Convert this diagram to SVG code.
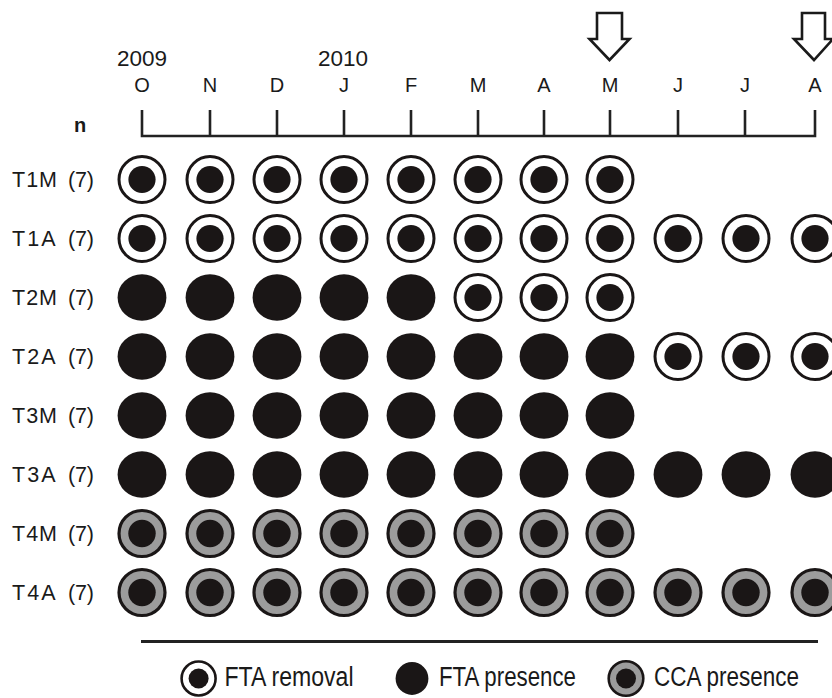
<svg xmlns="http://www.w3.org/2000/svg" xmlns:xlink="http://www.w3.org/1999/xlink" width="832" height="698" viewBox="0 0 832 698">
<style>
.t{font-family:"Liberation Sans",Arial,sans-serif;fill:#1a1a1a}
.m{font-size:20px;text-anchor:middle}
.y{font-size:22.5px;text-anchor:middle}
.r{font-size:21.5px}
.lg{font-size:27px}
.ax{stroke:#222;stroke-width:2.6;fill:none}
.arr{fill:#fff;stroke:#1a1a1a;stroke-width:2.6;stroke-linejoin:miter}
</style>
<defs>
<g id="ring"><circle r="23" fill="#fff" stroke="#1a1616" stroke-width="3"/><circle r="13.6" fill="#1a1616"/></g>
<g id="full"><ellipse rx="24.4" ry="23.2" fill="#1a1616"/></g>
<g id="cca"><circle r="23" fill="#9c9c9c" stroke="#1a1616" stroke-width="3.2"/><circle r="13.7" fill="#1a1616"/></g>
</defs>
<rect width="832" height="698" fill="#fff"/>

<g id="header">
<text class="t y" x="142" y="66">2009</text>
<text class="t y" x="343" y="66">2010</text>
<text class="t m" x="142" y="92">O</text>
<text class="t m" x="210" y="92">N</text>
<text class="t m" x="277" y="92">D</text>
<text class="t m" x="344" y="92">J</text>
<text class="t m" x="411" y="92">F</text>
<text class="t m" x="478" y="92">M</text>
<text class="t m" x="544" y="92">A</text>
<text class="t m" x="610" y="92">M</text>
<text class="t m" x="678" y="92">J</text>
<text class="t m" x="745" y="92">J</text>
<text class="t m" x="815" y="92">A</text>
<text class="t" x="80" y="132" style="font-size:20px;font-weight:bold;text-anchor:middle">n</text>
</g>

<g id="connectors">
<path class="ax" d="M142 110V136H815V110M210 110V136M277 110V136M344 110V136M411 110V136M478 110V136M544 110V136M610 110V136M678 110V136M745 110V136"/>
<polygon class="arr" points="597,13 622,13 622,39 629.5,39 609.5,60 589.5,39 597,39"/>
<polygon class="arr" points="802,13 825,13 825,39 833,39 814,60 794,39 802,39"/>
<line x1="141" y1="641.5" x2="818" y2="641.5" stroke="#222" stroke-width="3"/>
</g>

<g id="row-T1M">
<text class="t r" x="12" y="186.5" textLength="45" lengthAdjust="spacing">T1M</text>
<text class="t r" x="68" y="186.5" textLength="26">(7)</text>
<use href="#ring" x="142" y="179.5"/><use href="#ring" x="210" y="179.5"/><use href="#ring" x="277" y="179.5"/><use href="#ring" x="344" y="179.5"/><use href="#ring" x="411" y="179.5"/><use href="#ring" x="478" y="179.5"/><use href="#ring" x="544" y="179.5"/><use href="#ring" x="610" y="179.5"/>
</g>
<g id="row-T1A">
<text class="t r" x="12" y="245.5" textLength="43.5" lengthAdjust="spacing">T1A</text>
<text class="t r" x="68" y="245.5" textLength="26">(7)</text>
<use href="#ring" x="142" y="238.5"/><use href="#ring" x="210" y="238.5"/><use href="#ring" x="277" y="238.5"/><use href="#ring" x="344" y="238.5"/><use href="#ring" x="411" y="238.5"/><use href="#ring" x="478" y="238.5"/><use href="#ring" x="544" y="238.5"/><use href="#ring" x="610" y="238.5"/><use href="#ring" x="678" y="238.5"/><use href="#ring" x="746" y="238.5"/><use href="#ring" x="815" y="238.5"/>
</g>
<g id="row-T2M">
<text class="t r" x="12" y="304.5" textLength="45" lengthAdjust="spacing">T2M</text>
<text class="t r" x="68" y="304.5" textLength="26">(7)</text>
<use href="#full" x="142" y="297.5"/><use href="#full" x="210" y="297.5"/><use href="#full" x="277" y="297.5"/><use href="#full" x="344" y="297.5"/><use href="#full" x="411" y="297.5"/><use href="#ring" x="478" y="297.5"/><use href="#ring" x="544" y="297.5"/><use href="#ring" x="610" y="297.5"/>
</g>
<g id="row-T2A">
<text class="t r" x="12" y="363.5" textLength="43.5" lengthAdjust="spacing">T2A</text>
<text class="t r" x="68" y="363.5" textLength="26">(7)</text>
<use href="#full" x="142" y="356.5"/><use href="#full" x="210" y="356.5"/><use href="#full" x="277" y="356.5"/><use href="#full" x="344" y="356.5"/><use href="#full" x="411" y="356.5"/><use href="#full" x="478" y="356.5"/><use href="#full" x="544" y="356.5"/><use href="#full" x="610" y="356.5"/><use href="#ring" x="678" y="356.5"/><use href="#ring" x="746" y="356.5"/><use href="#ring" x="815" y="356.5"/>
</g>
<g id="row-T3M">
<text class="t r" x="12" y="422.5" textLength="45" lengthAdjust="spacing">T3M</text>
<text class="t r" x="68" y="422.5" textLength="26">(7)</text>
<use href="#full" x="142" y="415.5"/><use href="#full" x="210" y="415.5"/><use href="#full" x="277" y="415.5"/><use href="#full" x="344" y="415.5"/><use href="#full" x="411" y="415.5"/><use href="#full" x="478" y="415.5"/><use href="#full" x="544" y="415.5"/><use href="#full" x="610" y="415.5"/>
</g>
<g id="row-T3A">
<text class="t r" x="12" y="481.5" textLength="43.5" lengthAdjust="spacing">T3A</text>
<text class="t r" x="68" y="481.5" textLength="26">(7)</text>
<use href="#full" x="142" y="474.5"/><use href="#full" x="210" y="474.5"/><use href="#full" x="277" y="474.5"/><use href="#full" x="344" y="474.5"/><use href="#full" x="411" y="474.5"/><use href="#full" x="478" y="474.5"/><use href="#full" x="544" y="474.5"/><use href="#full" x="610" y="474.5"/><use href="#full" x="678" y="474.5"/><use href="#full" x="746" y="474.5"/><use href="#full" x="815" y="474.5"/>
</g>
<g id="row-T4M">
<text class="t r" x="12" y="540.5" textLength="45" lengthAdjust="spacing">T4M</text>
<text class="t r" x="68" y="540.5" textLength="26">(7)</text>
<use href="#cca" x="142" y="533.5"/><use href="#cca" x="210" y="533.5"/><use href="#cca" x="277" y="533.5"/><use href="#cca" x="344" y="533.5"/><use href="#cca" x="411" y="533.5"/><use href="#cca" x="478" y="533.5"/><use href="#cca" x="544" y="533.5"/><use href="#cca" x="610" y="533.5"/>
</g>
<g id="row-T4A">
<text class="t r" x="12" y="599.5" textLength="43.5" lengthAdjust="spacing">T4A</text>
<text class="t r" x="68" y="599.5" textLength="26">(7)</text>
<use href="#cca" x="142" y="592.5"/><use href="#cca" x="210" y="592.5"/><use href="#cca" x="277" y="592.5"/><use href="#cca" x="344" y="592.5"/><use href="#cca" x="411" y="592.5"/><use href="#cca" x="478" y="592.5"/><use href="#cca" x="544" y="592.5"/><use href="#cca" x="610" y="592.5"/><use href="#cca" x="678" y="592.5"/><use href="#cca" x="746" y="592.5"/><use href="#cca" x="815" y="592.5"/>
</g>

<g id="legend">
<circle cx="198.6" cy="678.5" r="17" fill="#fff" stroke="#1a1616" stroke-width="2.6"/>
<circle cx="198.6" cy="678.5" r="10" fill="#1a1616"/>
<text class="t lg" x="224.5" y="686" textLength="129" lengthAdjust="spacingAndGlyphs">FTA removal</text>
<circle cx="412" cy="678.5" r="16.4" fill="#1a1616"/>
<text class="t lg" x="439" y="686" textLength="137" lengthAdjust="spacingAndGlyphs">FTA presence</text>
<circle cx="626" cy="678.5" r="17.3" fill="#9c9c9c" stroke="#1a1616" stroke-width="2.6"/>
<circle cx="626" cy="678.5" r="10" fill="#1a1616"/>
<text class="t lg" x="654" y="686" textLength="145" lengthAdjust="spacingAndGlyphs">CCA presence</text>
</g>
</svg>
